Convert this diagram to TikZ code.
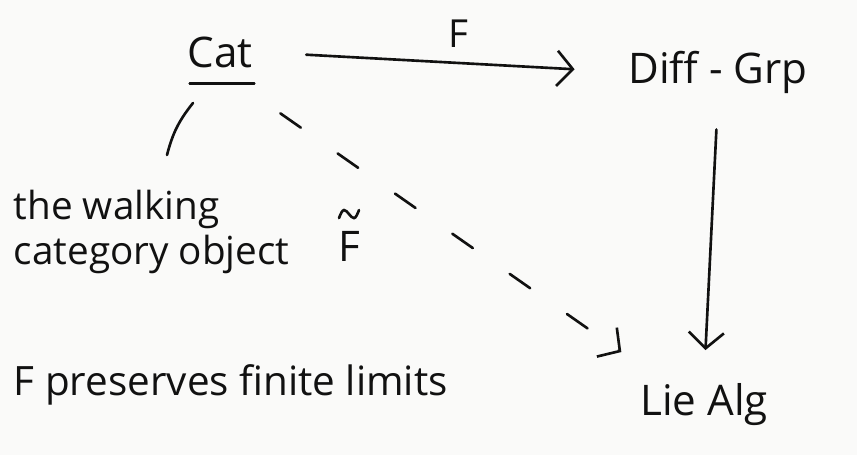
\documentclass[tikz,border=0pt]{standalone}
\usepackage{fontspec}
\setmainfont{Open Sans}
\usetikzlibrary{arrows.meta}

\definecolor{paper}{HTML}{FAFAF9}
\definecolor{ink}{HTML}{111111}

\newcommand*{\xmax}{857}
\newcommand*{\ymax}{455}

\begin{document}
\begin{tikzpicture}
[
	x=0.02cm, y=-0.02cm,
	obj/.style={inner sep=2pt,font=\fontsize{24}{28}\selectfont,text=ink},
	note/.style={inner sep=2pt,font=\fontsize{22}{26}\selectfont,text=ink,align=left},
	pen/.style={draw=ink,line width=1.5pt,line cap=round},
	map/.style={pen,-{Straight Barb[length=9pt,width=20pt,line width=1.5pt]}},
	dashmap/.style={pen,dash pattern=on 0.5cm off 0.9cm}
]

	% paper
	\fill[paper] (0,0) rectangle (\xmax,\ymax);
	\useasboundingbox (0,0) rectangle (\xmax,\ymax);

	% objects
	\node[obj] (cat) at (220,52) {Cat};
	\node[obj] (diff) at (718,72) {Diff - Grp};
	\node[obj] (lie) at (704,405) {Lie Alg};

	% notes
	\node[note,anchor=west] (walking) at (10,232) {the walking\\category object};
	\node[note,anchor=west,font=\fontsize{23}{28}\selectfont] (limits) at (10,385) {F preserves finite limits};

	\draw[pen] ([shift={(6,12)}]cat.south west) -- ([shift={(-2,12)}]cat.south east);

	% maps
	\draw[map,shorten <=1cm,shorten >=1cm] (cat.east) -- (diff.west)
		node[pos=0.55,above=6pt,note] (f) {F};
	\draw[map,shorten <=0.65cm,shorten >=0.6cm] (diff.south) -- (lie.north);
	\draw[dashmap] ([shift={(24,42)}]cat.south east) -- ([shift={(-15,-28)}]lie.north west);
	\draw[map] ([shift={(-16.6,-29.1)}]lie.north west) -- ([shift={(-15,-28)}]lie.north west);

	% F tilde
	\node[note,font=\fontsize{24}{28}\selectfont] (ftilde) at (349,246) {F};
	\draw[pen,shift={(ftilde.north)}]
	  (-10,-9)
	  sin (-5,-17)
	  cos (0,-13)
	  sin (5,-9)
	  cos (10,-17)
	;

	% the object in Cat
	\coordinate (cat-tie) at (193,103);
	\coordinate (walk-tie) at (167,155);
	\draw[pen] (cat-tie) to[bend right=12] (walk-tie);

\end{tikzpicture}
\end{document}
